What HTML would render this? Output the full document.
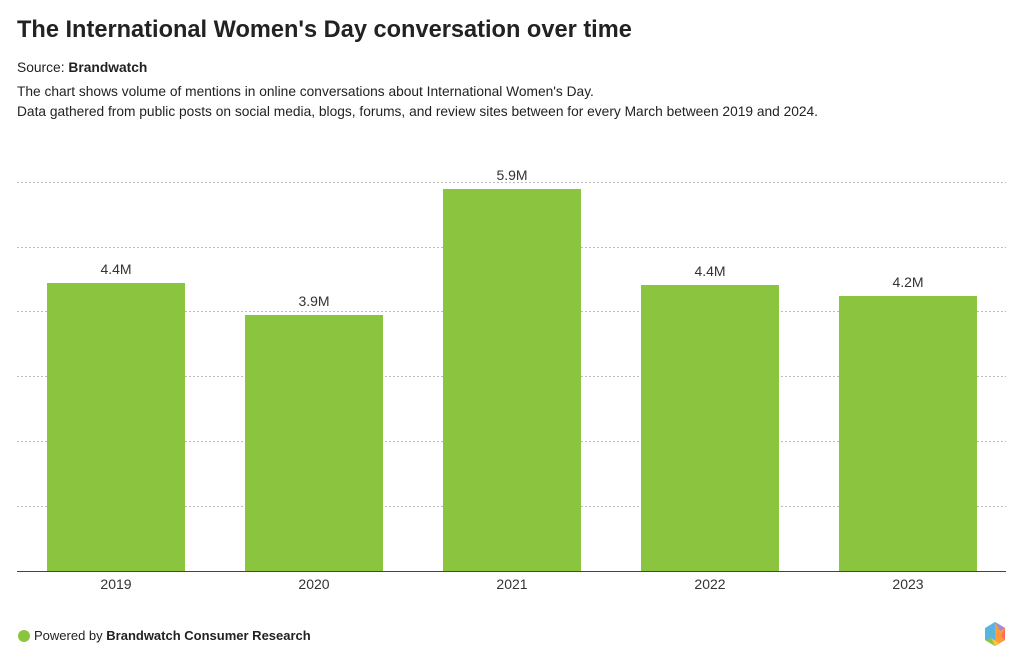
<!DOCTYPE html>
<html><head><meta charset="utf-8"><style>
body{margin:0;width:1024px;height:667px;background:#fff;font-family:"Liberation Sans",sans-serif;color:#222;position:relative;overflow:hidden}
.t{position:absolute;left:17px;top:17px;font-size:23.6px;font-weight:bold;color:#222}
.s{position:absolute;left:17px;top:60px;font-size:13.8px}
.d{position:absolute;left:17px;top:82px;font-size:13.75px;line-height:20px}
.f{position:absolute;left:34px;top:628px;font-size:13px}
</style></head><body>
<div class="t">The International Women's Day conversation over time</div>
<div class="s">Source: <b>Brandwatch</b></div>
<div class="d">The chart shows volume of mentions in online conversations about International Women's Day.<br>Data gathered from public posts on social media, blogs, forums, and review sites between for every March between 2019 and 2024.</div>
<svg width="1024" height="667" style="position:absolute;left:0;top:0">
<g stroke="#bbb" stroke-dasharray="2,2" stroke-width="1">
<line x1="17" x2="1006" y1="182.5" y2="182.5"/><line x1="17" x2="1006" y1="247.5" y2="247.5"/>
<line x1="17" x2="1006" y1="311.5" y2="311.5"/><line x1="17" x2="1006" y1="376.5" y2="376.5"/>
<line x1="17" x2="1006" y1="441.5" y2="441.5"/><line x1="17" x2="1006" y1="506.5" y2="506.5"/>
</g>
<g fill="#8bc540">
<rect x="47" y="283" width="138" height="288"/>
<rect x="245" y="315" width="138" height="256"/>
<rect x="443" y="189" width="138" height="382"/>
<rect x="641" y="285" width="138" height="286"/>
<rect x="839" y="296" width="138" height="275"/>
</g>
<line x1="17" x2="1006" y1="571.5" y2="571.5" stroke="#444"/>
<g font-size="14" fill="#333" text-anchor="middle" font-family="Liberation Sans,sans-serif">
<text x="116" y="274">4.4M</text><text x="314" y="306">3.9M</text><text x="512" y="180">5.9M</text><text x="710" y="276">4.4M</text><text x="908" y="287">4.2M</text>
<text x="116" y="589">2019</text><text x="314" y="589">2020</text><text x="512" y="589">2021</text><text x="710" y="589">2022</text><text x="908" y="589">2023</text>
</g>
<circle cx="24" cy="636" r="6" fill="#8bc540"/>
<g transform="translate(995,634)">
<polygon points="0,-12 10,-6 10,6 0,12 -10,6 -10,-6" fill="#5ab4e0"/>
<polygon points="0,-12 10,-6 10,6 0,12" fill="#ff9a3c"/>
<polygon points="0,-12 10,-6 5,-3" fill="#a38bd6"/>
<polygon points="-10,6 0,12 -4,4" fill="#8bc540"/>
<polygon points="-4,4 0,12 4,9" fill="#ffc82c"/>
<polygon points="10,-6 10,6 6,2" fill="#ff6a5a"/>
</g>
</svg>
<div class="f">Powered by <b>Brandwatch Consumer Research</b></div>
</body></html>
